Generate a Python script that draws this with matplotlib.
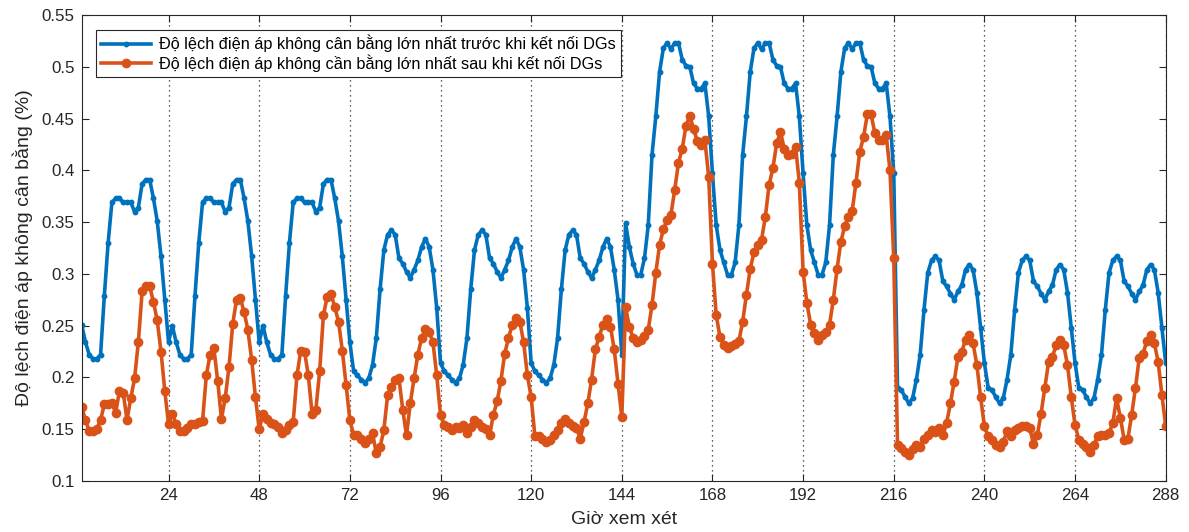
import matplotlib
matplotlib.use("Agg")
import matplotlib.pyplot as plt
import numpy as np

plt.rcParams['font.family'] = ['Liberation Sans', 'DejaVu Sans']

# Blue series: before DG connection (one list per day of 24 hours)
blue_d1 = [0.251, 0.234, 0.222, 0.218, 0.218, 0.222, 0.279, 0.330, 0.369, 0.373, 0.373, 0.369,
           0.369, 0.369, 0.360, 0.364, 0.387, 0.391, 0.391, 0.373, 0.351, 0.317, 0.275, 0.234]
blue_d2 = [0.250, 0.234, 0.222, 0.218, 0.218, 0.222, 0.279, 0.330, 0.369, 0.373, 0.373, 0.369,
           0.369, 0.369, 0.360, 0.364, 0.387, 0.391, 0.391, 0.373, 0.351, 0.317, 0.275, 0.234]
blue_d3 = [0.250, 0.234, 0.222, 0.218, 0.218, 0.222, 0.279, 0.330, 0.369, 0.373, 0.373, 0.369,
           0.369, 0.369, 0.360, 0.364, 0.387, 0.391, 0.391, 0.373, 0.351, 0.317, 0.275, 0.234]
blue_d4 = [0.206, 0.202, 0.198, 0.195, 0.199, 0.212, 0.238, 0.285, 0.323, 0.338, 0.342, 0.338,
           0.315, 0.310, 0.302, 0.296, 0.304, 0.313, 0.326, 0.334, 0.326, 0.304, 0.267, 0.214]
blue_d5 = [0.206, 0.202, 0.198, 0.195, 0.199, 0.212, 0.238, 0.285, 0.323, 0.338, 0.342, 0.338,
           0.315, 0.310, 0.302, 0.296, 0.304, 0.313, 0.326, 0.334, 0.326, 0.304, 0.267, 0.214]
blue_d6 = [0.206, 0.202, 0.198, 0.195, 0.199, 0.212, 0.238, 0.285, 0.323, 0.338, 0.342, 0.338,
           0.315, 0.310, 0.302, 0.296, 0.304, 0.313, 0.326, 0.334, 0.326, 0.304, 0.275, 0.222]
blue_d7 = [0.349, 0.326, 0.310, 0.299, 0.299, 0.315, 0.347, 0.415, 0.452, 0.495, 0.518, 0.523,
           0.517, 0.523, 0.523, 0.507, 0.501, 0.500, 0.484, 0.479, 0.479, 0.484, 0.452, 0.397]
blue_d8 = [0.347, 0.323, 0.311, 0.299, 0.299, 0.311, 0.347, 0.415, 0.452, 0.495, 0.518, 0.523,
           0.517, 0.523, 0.523, 0.507, 0.501, 0.500, 0.484, 0.479, 0.479, 0.484, 0.452, 0.397]
blue_d9 = [0.347, 0.323, 0.311, 0.299, 0.299, 0.311, 0.347, 0.415, 0.452, 0.495, 0.518, 0.523,
           0.517, 0.523, 0.523, 0.507, 0.501, 0.500, 0.484, 0.479, 0.479, 0.484, 0.452, 0.397]
blue_d10 = [0.190, 0.188, 0.181, 0.175, 0.180, 0.198, 0.222, 0.265, 0.301, 0.313, 0.317, 0.313,
            0.293, 0.288, 0.281, 0.275, 0.283, 0.289, 0.304, 0.309, 0.304, 0.282, 0.248, 0.214]
blue_d11 = [0.190, 0.188, 0.181, 0.175, 0.180, 0.198, 0.222, 0.265, 0.301, 0.313, 0.317, 0.313,
            0.293, 0.288, 0.281, 0.275, 0.283, 0.289, 0.304, 0.309, 0.304, 0.282, 0.248, 0.214]
blue_d12 = [0.190, 0.188, 0.181, 0.175, 0.180, 0.198, 0.222, 0.265, 0.301, 0.313, 0.317, 0.313,
            0.293, 0.288, 0.281, 0.275, 0.283, 0.289, 0.304, 0.309, 0.304, 0.282, 0.248, 0.214]

# Orange series: after DG connection
orange_d1 = [0.171, 0.159, 0.148, 0.148, 0.150, 0.159, 0.174, 0.174, 0.175, 0.166, 0.187, 0.185,
             0.159, 0.180, 0.199, 0.234, 0.283, 0.288, 0.288, 0.273, 0.255, 0.225, 0.187, 0.155]
orange_d2 = [0.165, 0.155, 0.148, 0.148, 0.151, 0.155, 0.155, 0.157, 0.158, 0.202, 0.222, 0.228,
             0.197, 0.160, 0.180, 0.210, 0.252, 0.275, 0.277, 0.263, 0.246, 0.217, 0.181, 0.150]
orange_d3 = [0.165, 0.160, 0.156, 0.155, 0.152, 0.146, 0.149, 0.154, 0.157, 0.202, 0.226, 0.225,
             0.202, 0.165, 0.169, 0.206, 0.260, 0.278, 0.281, 0.268, 0.254, 0.226, 0.193, 0.159]
orange_d4 = [0.144, 0.144, 0.141, 0.137, 0.141, 0.146, 0.127, 0.133, 0.149, 0.183, 0.191, 0.198,
             0.199, 0.169, 0.144, 0.175, 0.199, 0.222, 0.238, 0.247, 0.244, 0.234, 0.202, 0.164]
orange_d5 = [0.154, 0.152, 0.149, 0.152, 0.151, 0.154, 0.146, 0.152, 0.159, 0.156, 0.152, 0.150,
             0.144, 0.164, 0.177, 0.197, 0.223, 0.238, 0.251, 0.257, 0.254, 0.234, 0.202, 0.181]
orange_d6 = [0.143, 0.143, 0.141, 0.138, 0.140, 0.144, 0.149, 0.156, 0.160, 0.156, 0.153, 0.151,
             0.141, 0.157, 0.175, 0.198, 0.227, 0.239, 0.251, 0.256, 0.249, 0.227, 0.194, 0.162]
orange_d7 = [0.268, 0.249, 0.238, 0.234, 0.236, 0.240, 0.246, 0.270, 0.301, 0.328, 0.343, 0.352,
             0.357, 0.381, 0.407, 0.421, 0.443, 0.4525, 0.440, 0.428, 0.4245, 0.429, 0.394, 0.310]
orange_d8 = [0.260, 0.239, 0.231, 0.228, 0.230, 0.232, 0.235, 0.254, 0.280, 0.305, 0.321, 0.328,
             0.333, 0.355, 0.386, 0.402, 0.426, 0.437, 0.421, 0.415, 0.416, 0.423, 0.388, 0.302]
orange_d9 = [0.272, 0.251, 0.243, 0.236, 0.241, 0.244, 0.251, 0.275, 0.305, 0.331, 0.346, 0.355,
             0.361, 0.388, 0.418, 0.432, 0.454, 0.454, 0.436, 0.429, 0.429, 0.434, 0.400, 0.315]
orange_d10 = [0.135, 0.132, 0.128, 0.125, 0.131, 0.135, 0.133, 0.141, 0.144, 0.149, 0.147, 0.151,
              0.144, 0.156, 0.175, 0.196, 0.220, 0.225, 0.236, 0.241, 0.233, 0.212, 0.181, 0.153]
orange_d11 = [0.143, 0.140, 0.135, 0.133, 0.138, 0.148, 0.143, 0.149, 0.151, 0.153, 0.153, 0.151,
              0.136, 0.144, 0.165, 0.190, 0.215, 0.220, 0.231, 0.236, 0.231, 0.212, 0.181, 0.154]
orange_d12 = [0.140, 0.136, 0.133, 0.128, 0.135, 0.143, 0.144, 0.144, 0.146, 0.156, 0.180, 0.161,
              0.140, 0.141, 0.164, 0.190, 0.219, 0.223, 0.235, 0.241, 0.233, 0.215, 0.183, 0.153]

blue = (blue_d1 + blue_d2 + blue_d3 + blue_d4 + blue_d5 + blue_d6 +
        blue_d7 + blue_d8 + blue_d9 + blue_d10 + blue_d11 + blue_d12)
orange = (orange_d1 + orange_d2 + orange_d3 + orange_d4 + orange_d5 + orange_d6 +
          orange_d7 + orange_d8 + orange_d9 + orange_d10 + orange_d11 + orange_d12)
hours = list(range(1, len(blue) + 1))

xticks = [24, 48, 72, 96, 120, 144, 168, 192, 216, 240, 264, 288]
yticks = [0.1, 0.15, 0.2, 0.25, 0.3, 0.35, 0.4, 0.45, 0.5, 0.55]
ytick_labels = ['0.1', '0.15', '0.2', '0.25', '0.3', '0.35', '0.4', '0.45', '0.5', '0.55']

label_blue = 'Độ lệch điện áp không cân bằng lớn nhất trước khi kết nối DGs'
label_orange = 'Độ lệch điện áp không cần bằng lớn nhất sau khi kết nối DGs'

fig = plt.figure(figsize=(11.89, 5.32), dpi=100)
ax = fig.add_axes([0.0687, 0.0959, 0.9117, 0.8759])

ax.plot(hours, blue, color='#0072BD', lw=2.6, marker='o', markersize=3.2, label=label_blue)
ax.plot(hours, orange, color='#D95319', lw=2.6, marker='o', markersize=6, label=label_orange)

ax.set_xlim(1, 288)
ax.set_ylim(0.1, 0.55)
ax.set_xticks(xticks)
ax.set_yticks(yticks)
ax.set_yticklabels(ytick_labels)
ax.tick_params(direction='in', top=True, right=True, length=5, width=0.8,
               labelsize=12.2, colors='#262626', pad=5)
ax.xaxis.grid(True, linestyle=(0, (1, 3)), color='#262626', lw=0.9)
for s in ax.spines.values():
    s.set_color('#262626')
    s.set_linewidth(0.8)

ax.set_xlabel('Giờ xem xét', fontsize=14, color='#262626', labelpad=6)
ax.set_ylabel('Độ lệch điện áp không cân bằng (%)', fontsize=14, color='#262626', labelpad=6)

leg = ax.legend(loc='upper left', bbox_to_anchor=(0.0132, 0.968), borderaxespad=0,
                fontsize=11.7, fancybox=False, framealpha=1, edgecolor='#262626',
                handlelength=3.1, borderpad=0.3, labelspacing=0.12, handletextpad=0.5)
leg.get_frame().set_linewidth(0.8)

fig.savefig('out.png', dpi=100)
